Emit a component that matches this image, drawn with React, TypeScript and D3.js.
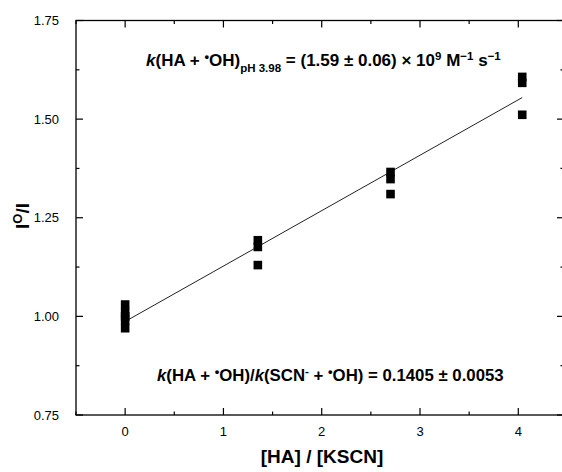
import React from "react";
import * as d3 from "d3";

const xTicks = [0, 1, 2, 3, 4];
const yTicks = [0.75, 1.0, 1.25, 1.5, 1.75];
const yTickLabels = ["0.75", "1.00", "1.25", "1.50", "1.75"];
const ptX = [0, 0, 0, 0, 0, 1.35, 1.35, 1.35, 2.7, 2.7, 2.7, 4.04, 4.04, 4.04];
const ptY = [0.97, 0.99, 1.0, 1.01, 1.03, 1.193, 1.176, 1.13, 1.366, 1.348, 1.31, 1.607, 1.592, 1.511];
const fitX = [0, 4.04];
const fitIntercept = 0.987;
const fitSlope = 0.1405;

export default function App() {
  const W = 562, H = 472;
  const left = 76, right = 564, top = 20.5, bottom = 415;
  const x = d3.scaleLinear().domain([-0.5, 4.465]).range([left, right]);
  const y = d3.scaleLinear().domain([0.75, 1.75]).range([bottom, top]);
  const minorX = d3.range(-0.5, 4.5, 0.5).filter((v) => !xTicks.includes(v));
  const minorY = [0.875, 1.125, 1.375, 1.625];
  const line = d3.line<number>().x((d) => x(d)).y((d) => y(fitIntercept + fitSlope * d));
  const ms = 8.6;
  const font = "Liberation Sans, Arial, sans-serif";
  return (
    <svg width={W} height={H} style={{ position: "absolute", left: 0, top: 0 }} fontFamily={font}>
      <rect x={0} y={0} width={W} height={H} fill="white" />
      <rect x={left} y={top} width={right - left} height={bottom - top} fill="none" stroke="black" strokeWidth={1.3} />
      {xTicks.map((t) => (
        <g key={"xt" + t}>
          <line x1={x(t)} x2={x(t)} y1={bottom} y2={bottom - 7} stroke="black" strokeWidth={1.2} />
          <line x1={x(t)} x2={x(t)} y1={top} y2={top + 7} stroke="black" strokeWidth={1.2} />
          <text x={x(t)} y={436} textAnchor="middle" fontSize={13}>{t}</text>
        </g>
      ))}
      {minorX.map((t) => (
        <g key={"xm" + t}>
          <line x1={x(t)} x2={x(t)} y1={bottom} y2={bottom - 3.5} stroke="black" strokeWidth={1.2} />
          <line x1={x(t)} x2={x(t)} y1={top} y2={top + 3.5} stroke="black" strokeWidth={1.2} />
        </g>
      ))}
      {yTicks.map((t, i) => (
        <g key={"yt" + t}>
          <line x1={left} x2={left + 7} y1={y(t)} y2={y(t)} stroke="black" strokeWidth={1.2} />
          <line x1={right} x2={right - 7} y1={y(t)} y2={y(t)} stroke="black" strokeWidth={1.2} />
          <text x={59} y={y(t) + 4.5} textAnchor="end" fontSize={13}>{yTickLabels[i]}</text>
        </g>
      ))}
      {minorY.map((t) => (
        <g key={"ym" + t}>
          <line x1={left} x2={left + 3.5} y1={y(t)} y2={y(t)} stroke="black" strokeWidth={1.2} />
          <line x1={right} x2={right - 3.5} y1={y(t)} y2={y(t)} stroke="black" strokeWidth={1.2} />
        </g>
      ))}
      <path d={line(fitX) || ""} fill="none" stroke="#222" strokeWidth={1} />
      {ptX.map((v, i) => (
        <rect key={"p" + i} x={x(v) - ms / 2} y={y(ptY[i]) - ms / 2} width={ms} height={ms} fill="black" />
      ))}
      <text x={322} y={463} textAnchor="middle" fontSize={19} fontWeight="bold">[HA] / [KSCN]</text>
      <text transform={`translate(29, 216) rotate(-90)`} textAnchor="middle" fontSize={19} fontWeight="bold">
        I<tspan dy={-7} fontSize={13}>O</tspan><tspan dy={7}>/I</tspan>
      </text>
      <text x={146} y={66} fontSize={17} fontWeight="bold">
        <tspan fontStyle="italic">k</tspan>(HA + <tspan dy={-5} fontSize={13}>•</tspan><tspan dy={5}>OH)</tspan>
        <tspan dy={6} fontSize={11.5}>pH 3.98</tspan>
        <tspan dy={-6}> = (1.59 ± 0.06) × 10</tspan>
        <tspan dy={-6} fontSize={11.5}>9</tspan>
        <tspan dy={6}> M</tspan>
        <tspan dy={-6} fontSize={11.5}>−1</tspan>
        <tspan dy={6}> s</tspan>
        <tspan dy={-6} fontSize={11.5}>−1</tspan>
      </text>
      <text x={157} y={381} fontSize={16.8} fontWeight="bold">
        <tspan fontStyle="italic">k</tspan>(HA + <tspan dy={-5} fontSize={13}>•</tspan><tspan dy={5}>OH)/</tspan>
        <tspan fontStyle="italic">k</tspan>(SCN<tspan dy={-6} fontSize={11.5}>-</tspan><tspan dy={6}> + </tspan>
        <tspan dy={-5} fontSize={13}>•</tspan><tspan dy={5}>OH) = 0.1405 ± 0.0053</tspan>
      </text>
    </svg>
  );
}
